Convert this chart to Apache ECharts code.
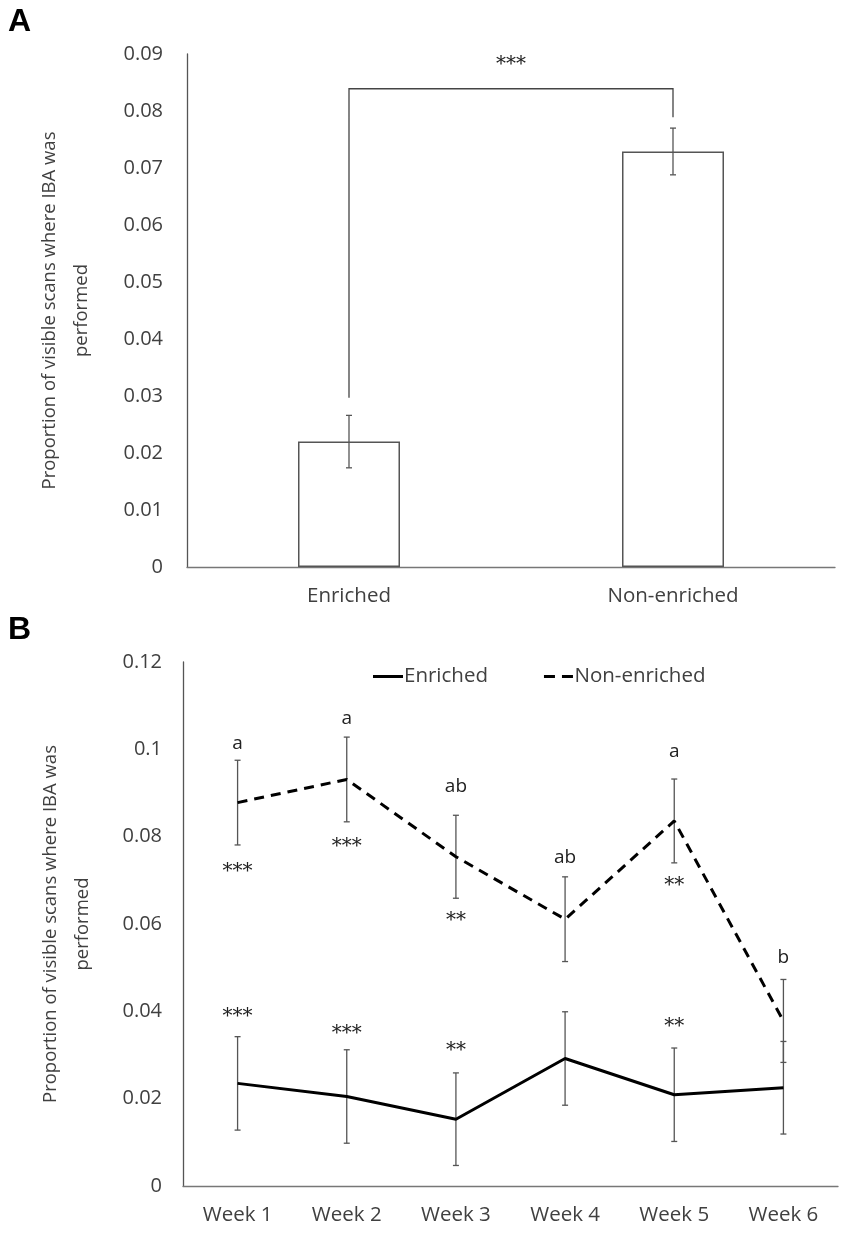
<!DOCTYPE html>
<html><head><meta charset="utf-8">
<script src="https://cdn.jsdelivr.net/npm/echarts@6/dist/echarts.min.js"></script>
<style>html,body{margin:0;padding:0;background:#fff}#c{width:850px;height:1234px}</style>
</head><body><div id="c"></div>
<script>
// Panel A data
const catsA = ['Enriched', 'Non-enriched'];
const meanA = [0.0220, 0.0729];
const errA = [0.0046, 0.0041];
const bracketA = [0.0297, 0.0839, 0.0789]; // left end, top, right end
const bracketLabel = '***';

// Panel B data
const weeks = ['Week 1', 'Week 2', 'Week 3', 'Week 4', 'Week 5', 'Week 6'];
const enriched = [0.0235, 0.0205, 0.0153, 0.0292, 0.0209, 0.0225];
const enrichedErr = [0.0107, 0.0107, 0.0106, 0.0107, 0.0107, 0.0106];
const nonEnriched = [0.0878, 0.0931, 0.0754, 0.0611, 0.0836, 0.0378];
const nonEnrichedErr = [0.0097, 0.0097, 0.0095, 0.0097, 0.0096, 0.0095];
const letters = ['a', 'a', 'ab', 'ab', 'a', 'b'];
const letterY = [0.1014, 0.1070, 0.0914, 0.0753, 0.0994, 0.0524];
const nonStars = ['***', '***', '**', '', '**', ''];
const nonStarsY = [0.0728, 0.0785, 0.0617, null, 0.0697, null];
const enrStars = ['***', '***', '**', '', '**', ''];
const enrStarsY = [0.0396, 0.0357, 0.0319, null, 0.0373, null];

const yName = 'Proportion of visible scans where IBA was\nperformed';
const FONT = '"Open Sans", "Noto Sans", sans-serif';
const TXT = '#404040';
const STAR_FONT = '20px "DejaVu Serif", "Liberation Serif", serif';

function errRender(params, api) {
  const x = api.value(0);
  const lo = api.coord([x, api.value(1)]);
  const hi = api.coord([x, api.value(2)]);
  const h = 3;
  const st = { stroke: '#555', lineWidth: 1.3 };
  return { type: 'group', children: [
    { type: 'line', shape: { x1: lo[0], y1: lo[1], x2: hi[0], y2: hi[1] }, style: st },
    { type: 'line', shape: { x1: hi[0] - h, y1: hi[1], x2: hi[0] + h, y2: hi[1] }, style: st },
    { type: 'line', shape: { x1: lo[0] - h, y1: lo[1], x2: lo[0] + h, y2: lo[1] }, style: st }
  ]};
}
function textRender(items, font, color, dy) {
  return function (params, api) {
    const d = items[params.dataIndex];
    const p = api.coord([d[0], d[1]]);
    return { type: 'text', x: p[0], y: p[1] + dy,
      style: { text: d[2], fill: color, font: font, textAlign: 'center', textVerticalAlign: 'middle' } };
  };
}
const errDataA = meanA.map((m, i) => [i, m - errA[i], m + errA[i]]);
const errDataEnr = enriched.map((m, i) => [i, m - enrichedErr[i], m + enrichedErr[i]]);
const errDataNon = nonEnriched.map((m, i) => [i, m - nonEnrichedErr[i], m + nonEnrichedErr[i]]);
const letterData = letters.map((t, i) => [i, letterY[i], t]);
const nonStarData = nonStars.map((t, i) => [i, nonStarsY[i], t]).filter(d => d[2]);
const enrStarData = enrStars.map((t, i) => [i, enrStarsY[i], t]).filter(d => d[2]);

const chart = echarts.init(document.getElementById('c'), null, { renderer: 'canvas' });
const yAxisCommon = (gi, max, interval, gap, margin) => ({
  gridIndex: gi, type: 'value', min: 0, max: max, interval: interval,
  axisLine: { show: true, lineStyle: { color: '#555', width: 1.3 } },
  axisTick: { show: false }, splitLine: { show: false },
  axisLabel: { color: TXT, fontSize: 20, fontFamily: FONT, margin: margin,
    formatter: v => v === 0 ? '0' : (Math.round(v * 1000) / 1000).toString() },
  name: yName, nameLocation: 'middle', nameRotate: 90, nameGap: gap,
  nameTextStyle: { color: TXT, fontSize: 18.5, fontFamily: FONT, lineHeight: 32, align: 'center' }
});
chart.setOption({
  animation: false,
  graphic: [
    { type: 'text', left: 8, top: 6, style: { text: 'A', font: 'bold 32px "Liberation Sans", Arial, sans-serif', fill: '#000' } },
    { type: 'text', left: 8, top: 614, style: { text: 'B', font: 'bold 32px "Liberation Sans", Arial, sans-serif', fill: '#000' } }
  ],
  grid: [
    { left: 187, top: 54, right: 15, height: 513 },
    { left: 183, top: 662, right: 12, height: 524 }
  ],
  legend: {
    left: 368, top: 661, itemWidth: 30, itemHeight: 3, itemGap: 56,
    data: [
      { name: 'Enriched', icon: 'path://M0,0H30V3H0Z' },
      { name: 'Non-enriched', icon: 'path://M0,0H11V3H0Z M18,0H29V3H18Z' }
    ],
    itemStyle: { color: '#000' },
    textStyle: { color: TXT, fontSize: 20.5, fontFamily: FONT, padding: [0, 0, 0, -4] }
  },
  xAxis: [
    { gridIndex: 0, type: 'category', data: catsA,
      axisLine: { lineStyle: { color: '#777', width: 1.3 } }, axisTick: { show: false },
      axisLabel: { color: TXT, fontSize: 20.5, fontFamily: FONT, margin: 19 } },
    { gridIndex: 1, type: 'category', data: weeks,
      axisLine: { lineStyle: { color: '#777', width: 1.3 } }, axisTick: { show: false },
      axisLabel: { color: TXT, fontSize: 20.5, fontFamily: FONT, margin: 19 } }
  ],
  yAxis: [ yAxisCommon(0, 0.09, 0.01, 89, 24), yAxisCommon(1, 0.12, 0.02, 84, 21) ],
  series: [
    { type: 'bar', xAxisIndex: 0, yAxisIndex: 0, data: meanA, barWidth: 102,
      itemStyle: { color: '#fff', borderColor: '#555', borderWidth: 1.5 }, z: 2 },
    { type: 'custom', xAxisIndex: 0, yAxisIndex: 0, data: errDataA, renderItem: errRender, z: 5 },
    { type: 'custom', xAxisIndex: 0, yAxisIndex: 0, data: [[0, 0.05]], z: 5,
      renderItem: function (params, api) {
        const a = api.coord([0, bracketA[0]]);
        const t0 = api.coord([0, bracketA[1]]);
        const t1 = api.coord([1, bracketA[1]]);
        const b = api.coord([1, bracketA[2]]);
        return { type: 'group', children: [
          { type: 'polyline', shape: { points: [a, t0, t1, b] }, style: { stroke: '#444', lineWidth: 1.3, fill: null } },
          { type: 'text', x: (t0[0] + t1[0]) / 2, y: t0[1] - 24,
            style: { text: bracketLabel, fill: '#222', font: STAR_FONT, textAlign: 'center', textVerticalAlign: 'middle' } }
        ]};
      } },
    { type: 'custom', xAxisIndex: 1, yAxisIndex: 1, data: errDataEnr, renderItem: errRender, z: 1 },
    { type: 'custom', xAxisIndex: 1, yAxisIndex: 1, data: errDataNon, renderItem: errRender, z: 1 },
    { name: 'Enriched', type: 'line', xAxisIndex: 1, yAxisIndex: 1, data: enriched,
      symbol: 'none', lineStyle: { color: '#000', width: 3 }, itemStyle: { color: '#000' }, z: 3 },
    { name: 'Non-enriched', type: 'line', xAxisIndex: 1, yAxisIndex: 1, data: nonEnriched,
      symbol: 'none', lineStyle: { color: '#000', width: 3, type: [10, 7] }, itemStyle: { color: '#000' }, z: 3 },
    { type: 'custom', xAxisIndex: 1, yAxisIndex: 1, data: letterData.map(d => [d[0], d[1]]), z: 6,
      renderItem: textRender(letterData, '19px "Open Sans", sans-serif', '#222', 0) },
    { type: 'custom', xAxisIndex: 1, yAxisIndex: 1, data: nonStarData.map(d => [d[0], d[1]]), z: 6,
      renderItem: textRender(nonStarData, STAR_FONT, '#222', 4) },
    { type: 'custom', xAxisIndex: 1, yAxisIndex: 1, data: enrStarData.map(d => [d[0], d[1]]), z: 6,
      renderItem: textRender(enrStarData, STAR_FONT, '#222', 4) }
  ]
});
</script></body></html>
